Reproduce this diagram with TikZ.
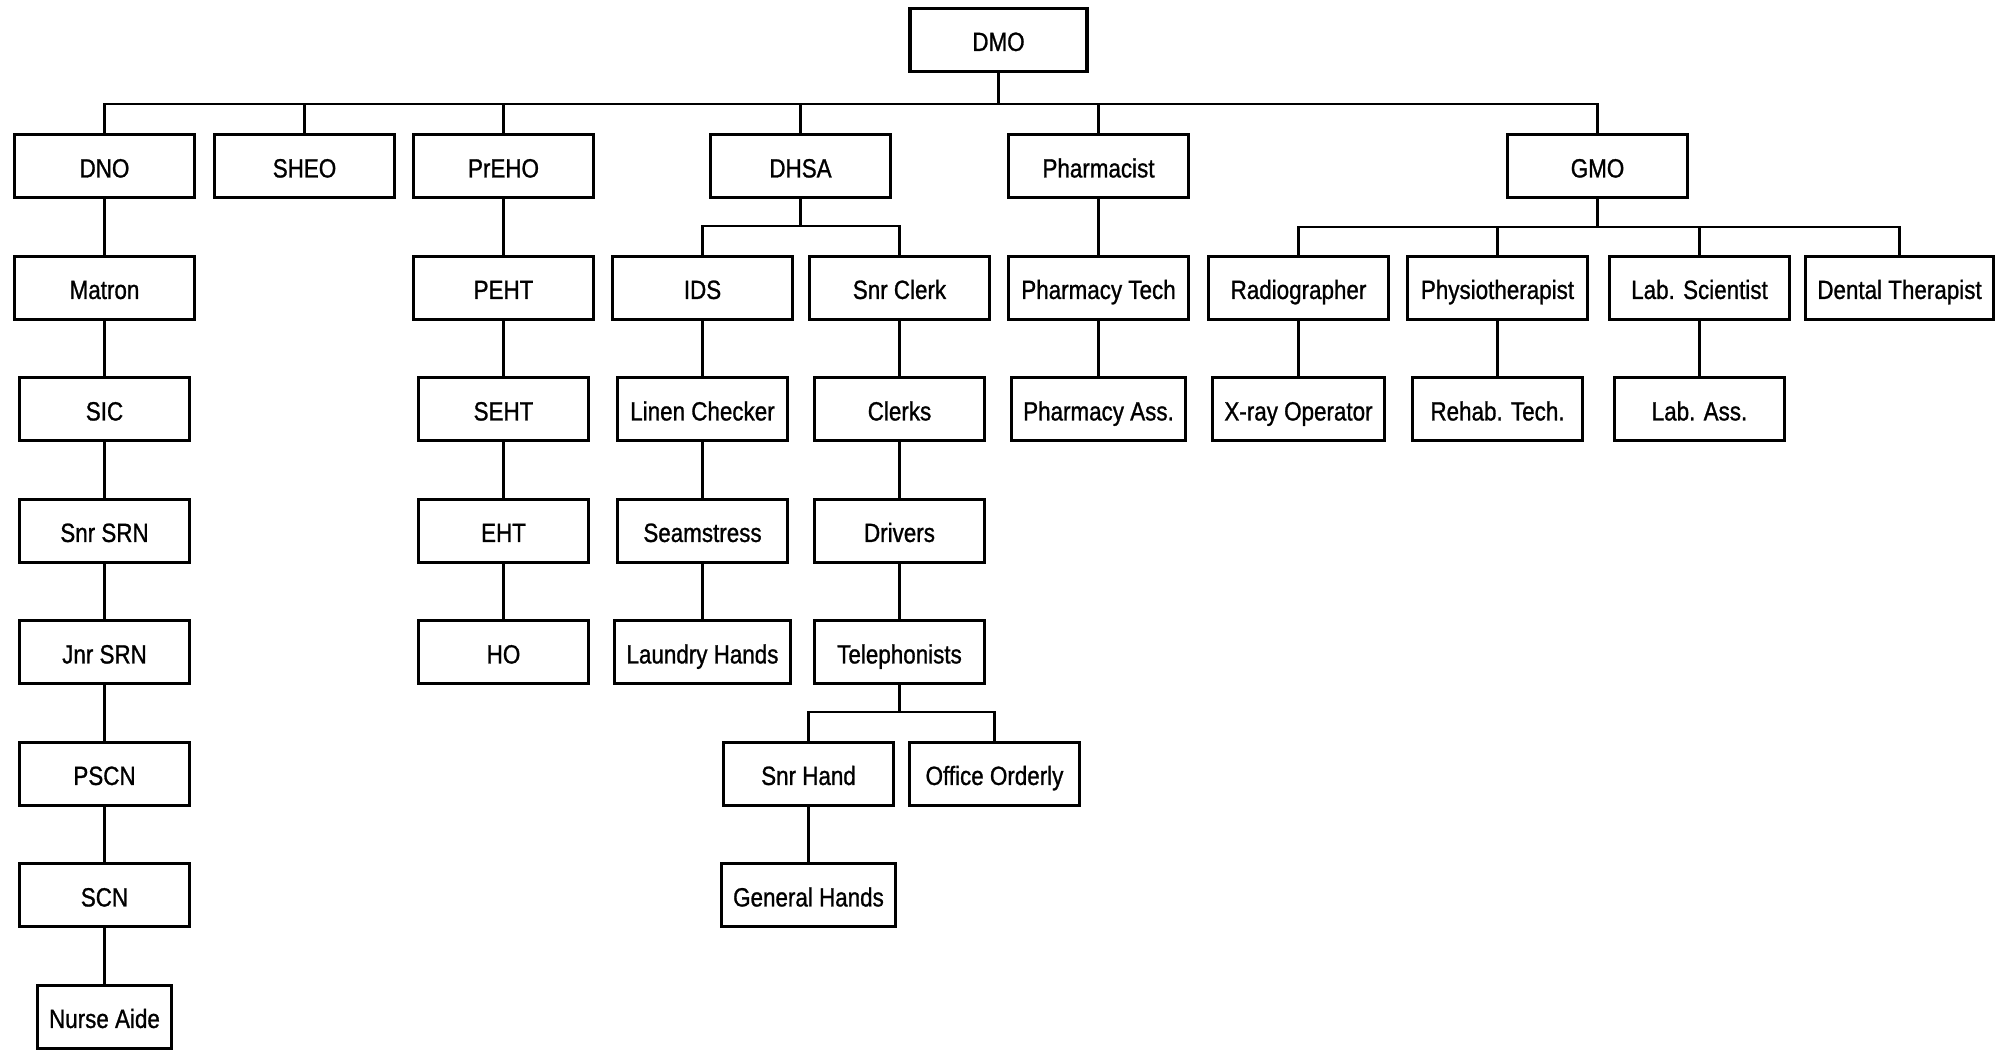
\documentclass[tikz,border=0pt]{standalone}
\usepackage{fontspec}
\setmainfont{Liberation Sans}[FakeStretch=0.85, FakeBold=1]
\usetikzlibrary{positioning}
\tikzstyle{head} = [rectangle, minimum width=1.8cm, minimum height=0.63cm, text height=1.6ex, text depth=0.4ex, text centered, draw=black, line width=0.9pt, font=\fontsize{7.5}{9}\selectfont]
\tikzstyle{staff} = [rectangle, minimum width=1.7cm, minimum height=0.63cm, text height=1.6ex, text depth=0.4ex, text centered, draw=black, line width=0.9pt, font=\fontsize{7.5}{9}\selectfont]
\tikzstyle{aide} = [rectangle, minimum width=1.2cm, minimum height=0.63cm, text height=1.6ex, text depth=0.4ex, text centered, draw=black, line width=0.9pt, font=\fontsize{7.5}{9}\selectfont]
\tikzstyle{line} = [line width=0.6pt, draw=black]

\begin{document}
\begin{tikzpicture}[node distance=1.215cm]
        \useasboundingbox (0,0) rectangle (20.15,-10.5);
        \node (dmo) [head, minimum width=1.77cm] at (9.985,-0.398) {DMO};

        % first level
        \node (dno) [head, below of=dmo, xshift=-8.94cm, yshift=-0.05cm] {DNO};
        \node (sheo) [head, below of=dmo, xshift=-6.94cm, yshift=-0.05cm] {SHEO};
        \node (preho) [head, below of=dmo, xshift=-4.95cm, yshift=-0.05cm] {PrEHO};
        \node (dhsa) [head, below of=dmo, xshift=-1.98cm, yshift=-0.05cm] {DHSA};
        \node (pharm) [head, below of=dmo, xshift=1.0cm, yshift=-0.05cm] {Pharmacist};
        \node (gmo) [head, below of=dmo, xshift=5.99cm, yshift=-0.05cm] {GMO};

        % nursing
        \node (matron) [head, below of=dno] {Matron};
        \node (sic) [staff, below of=matron] {SIC};
        \node (snrsrn) [staff, below of=sic] {Snr SRN};
        \node (jnrsrn) [staff, below of=snrsrn] {Jnr SRN};
        \node (pscn) [staff, below of=jnrsrn] {PSCN};
        \node (scn) [staff, below of=pscn] {SCN};
        \node (aide) [aide, below of=scn] {Nurse Aide};

        % environmental health
        \node (peht) [head, below of=preho] {PEHT};
        \node (seht) [staff, below of=peht] {SEHT};
        \node (eht) [staff, below of=seht] {EHT};
        \node (ho) [staff, below of=eht] {HO};

        % administration
        \node (ids) [head, below of=dhsa, xshift=-0.98cm] {IDS};
        \node (snrclerk) [head, below of=dhsa, xshift=0.99cm] {Snr Clerk};
        \node (linen) [staff, below of=ids] {Linen Checker};
        \node (seam) [staff, below of=linen] {Seamstress};
        \node (laundry) [staff, below of=seam] {Laundry Hands};
        \node (clerks) [staff, below of=snrclerk] {Clerks};
        \node (drivers) [staff, below of=clerks] {Drivers};
        \node (tele) [staff, below of=drivers] {Telephonists};
        \node (snrhand) [staff, below of=tele, xshift=-0.91cm] {Snr Hand};
        \node (orderly) [staff, below of=tele, xshift=0.95cm] {Office Orderly};
        \node (general) [staff, below of=snrhand] {General Hands};

        % pharmacy
        \node (ptech) [head, below of=pharm] {Pharmacy Tech};
        \node (pass) [staff, below of=ptech] {Pharmacy Ass.};

        % medical
        \node (radio) [head, below of=gmo, xshift=-2.99cm] {Radiographer};
        \node (physio) [head, below of=gmo, xshift=-1.0cm] {Physiotherapist};
        \node (labsci) [head, below of=gmo, xshift=1.02cm] {Lab. Scientist};
        \node (dental) [head, below of=gmo, xshift=3.02cm] {Dental Therapist};
        \node (xray) [staff, below of=radio] {X-ray Operator};
        \node (rehab) [staff, below of=physio] {Rehab. Tech.};
        \node (labass) [staff, below of=labsci] {Lab. Ass.};

        \draw [line] (dmo.south) -- ++(0,-0.31) -| (dno.north);
        \draw [line] (dmo.south) -- ++(0,-0.31) -| (sheo.north);
        \draw [line] (dmo.south) -- ++(0,-0.31) -| (preho.north);
        \draw [line] (dmo.south) -- ++(0,-0.31) -| (dhsa.north);
        \draw [line] (dmo.south) -- ++(0,-0.31) -| (pharm.north);
        \draw [line] (dmo.south) -- ++(0,-0.31) -| (gmo.north);

        \draw [line] (dno) -- (matron);
        \draw [line] (matron) -- (sic);
        \draw [line] (sic) -- (snrsrn);
        \draw [line] (snrsrn) -- (jnrsrn);
        \draw [line] (jnrsrn) -- (pscn);
        \draw [line] (pscn) -- (scn);
        \draw [line] (scn) -- (aide);

        \draw [line] (preho) -- (peht);
        \draw [line] (peht) -- (seht);
        \draw [line] (seht) -- (eht);
        \draw [line] (eht) -- (ho);

        \draw [line] (dhsa.south) -- ++(0,-0.27) -| (ids.north);
        \draw [line] (dhsa.south) -- ++(0,-0.27) -| (snrclerk.north);
        \draw [line] (ids) -- (linen);
        \draw [line] (linen) -- (seam);
        \draw [line] (seam) -- (laundry);
        \draw [line] (snrclerk) -- (clerks);
        \draw [line] (clerks) -- (drivers);
        \draw [line] (drivers) -- (tele);
        \draw [line] (tele.south) -- ++(0,-0.27) -| (snrhand.north);
        \draw [line] (tele.south) -- ++(0,-0.27) -| (orderly.north);
        \draw [line] (snrhand) -- (general);

        \draw [line] (pharm) -- (ptech);
        \draw [line] (ptech) -- (pass);

        \draw [line] (gmo.south) -- ++(0,-0.28) -| (radio.north);
        \draw [line] (gmo.south) -- ++(0,-0.28) -| (physio.north);
        \draw [line] (gmo.south) -- ++(0,-0.28) -| (labsci.north);
        \draw [line] (gmo.south) -- ++(0,-0.28) -| (dental.north);
        \draw [line] (radio) -- (xray);
        \draw [line] (physio) -- (rehab);
        \draw [line] (labsci) -- (labass);
    \end{tikzpicture}
\end{document}
